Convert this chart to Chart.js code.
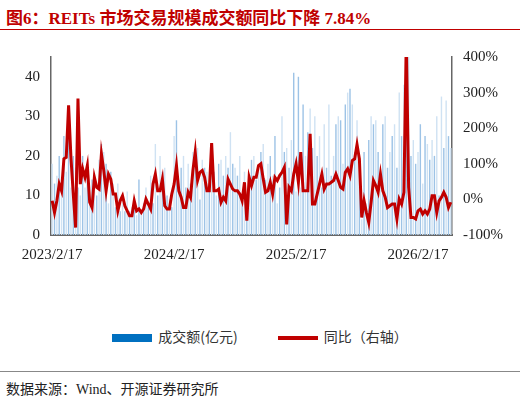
<!DOCTYPE html><html><head><meta charset="utf-8">
<script src="https://cdn.jsdelivr.net/npm/chart.js@4"></script>
<style>body{margin:0;width:520px;height:405px;background:#fff;font-family:"Liberation Serif","Noto Sans CJK SC",serif;position:relative;overflow:hidden}
#t{position:absolute;left:6px;top:4px;font-size:17px;font-weight:bold;color:#c00000;font-family:"Liberation Serif","Noto Sans CJK SC"}
#l1{position:absolute;left:0;top:29px;width:520px;border-top:1.5px solid #c00000}
#l2{position:absolute;left:0;top:371px;width:520px;border-top:1px solid #888}
#s{position:absolute;left:6px;top:378px;font-size:14px;color:#222;font-family:"Liberation Serif","Noto Sans CJK SC"}
#c{position:absolute;left:0;top:45px;width:520px;height:222px}
#lg{position:absolute;top:326px;left:0;width:520px;text-align:center;font-size:14px;color:#333;font-family:"Noto Sans CJK SC"}
.k{display:inline-block;width:40px;vertical-align:middle;margin-right:6px}</style></head><body>
<div id="t">图6：REITs 市场交易规模成交额同比下降 7.84%</div><div id="l1"></div>
<div id="c"><canvas id="cv"></canvas></div>
<div id="lg"><span class="k" style="height:8px;background:#0070c0"></span>成交额(亿元)<span style="display:inline-block;width:40px"></span><span class="k" style="height:4px;background:#c00000"></span>同比（右轴）</div>
<div id="l2"></div><div id="s">数据来源：Wind、开源证券研究所</div>
<script>
const tickLabels=["2023/2/17","2024/2/17","2025/2/17","2026/2/17"];
const volume=[18,13,15,20,14,25,16,30,12,20,17,12,10,20,12,18,9,14,11,10,19,23,21,18,8,16,13,7,13,6,8,6,11,6,7,8,5,14,6,8,12,7,15,8,23,10,20,16,17,10,9,7,25,29,13,17,20,12,18,13,21,20,22,9,19,17,16,13,19,16,10,18,19,15,20,17,26,18,17,15,20,10,16,6,14,19,20,14,16,21,23,14,18,20,15,25,8,12,30,21,22,17,24,41,11,40,12,33,20,26,32,22,30,20,25,12,28,17,33,15,20,28,30,29,18,33,36,37,33,21,29,18,4,21,8,24,30,28,29,21,14,28,30,17,21,25,28,17,36,25,38,30,45,20,24,18,21,28,13,25,23,19,24,20,30,10,35,22,34,25,22];
const yoy=[-4,-37,-4,43,24,114,118,264,118,15,-79,283,43,86,62,95,-8,-23,62,34,29,128,81,24,71,57,15,15,-32,-4,10,-18,-32,-46,-46,-4,-32,-27,-37,-27,1,-13,-27,43,71,24,24,57,-18,-27,-27,15,43,95,24,6,-23,-23,20,6,81,133,53,76,81,62,24,24,158,24,24,29,-8,6,-4,57,43,29,24,24,15,-4,48,-60,62,39,62,62,95,100,57,20,24,48,15,62,53,67,76,90,-70,34,24,71,100,48,133,24,24,24,184,-13,-13,15,43,71,29,43,43,48,53,71,53,34,29,76,86,67,109,114,154,114,-51,-4,-37,-65,-8,53,39,20,71,24,6,-23,-18,-13,-13,-55,1,-13,20,450,34,-51,-51,-55,-32,-27,-41,-32,-41,-27,10,10,-37,-4,6,20,6,-23,-8];
const tickIdx=[0,52,104,156];
const labels=yoy.map((v,i)=>{const k=tickIdx.indexOf(i);return k>=0?tickLabels[k]:"w"+i;});
const f={family:"Liberation Serif",size:15};
new Chart(document.getElementById('cv'),{data:{labels,datasets:[
{type:'bar',label:'成交额(亿元)',data:volume.slice(0,yoy.length),backgroundColor:volume.map((v,i)=>i%2?'#9dc3e6':'#cfe2f3'),barPercentage:0.6,categoryPercentage:1,yAxisID:'y',order:2},
{type:'line',label:'同比（右轴）',data:yoy,borderColor:'#c00000',backgroundColor:'#c00000',borderWidth:3,pointRadius:0,tension:0,yAxisID:'y1',order:1}]},
options:{animation:false,responsive:true,maintainAspectRatio:false,layout:{padding:{left:22,right:14,top:8}},
plugins:{legend:{display:false},tooltip:{enabled:false}},
scales:{x:{grid:{display:false,drawTicks:true},border:{color:'#666',width:2},ticks:{autoSkip:false,maxRotation:0,font:f,color:'#222',callback:function(v,i){return tickIdx.includes(i)?tickLabels[tickIdx.indexOf(i)]:null;}}},
y:{min:0,max:45,ticks:{stepSize:5,font:f,color:'#222'},grid:{display:false},border:{color:'#666',width:1.5}},
y1:{position:'right',min:-100,max:400,ticks:{stepSize:100,font:f,color:'#222',callback:v=>v+'%'},grid:{display:false},border:{color:'#666',width:1.5}}}}});
</script></body></html>
